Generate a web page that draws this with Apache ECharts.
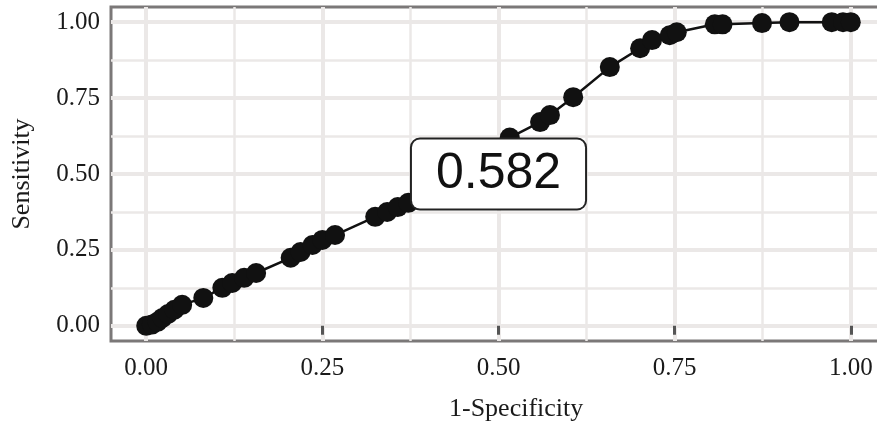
<!DOCTYPE html>
<html>
<head>
<meta charset="utf-8">
<script src="https://cdn.jsdelivr.net/npm/echarts@6/dist/echarts.min.js"></script>
<style>
  html, body { margin: 0; padding: 0; background: #fff; }
  #main { width: 877px; height: 434px; }
</style>
</head>
<body>
<div id="main"></div>
<script>
// ROC curve points
var fpr = [0, 0.008, 0.016, 0.023, 0.031, 0.040, 0.051, 0.081, 0.108, 0.122, 0.139, 0.156,
  0.205, 0.219, 0.236, 0.250, 0.268, 0.325, 0.342, 0.357, 0.372, 0.516, 0.559, 0.573,
  0.606, 0.658, 0.701, 0.718, 0.743, 0.753, 0.807, 0.818, 0.874, 0.913, 0.973, 0.989, 1];
var tpr = [0, 0.004, 0.013, 0.026, 0.039, 0.053, 0.069, 0.092, 0.125, 0.141, 0.158, 0.174,
  0.224, 0.243, 0.266, 0.283, 0.299, 0.359, 0.375, 0.391, 0.405, 0.620, 0.671, 0.694,
  0.753, 0.852, 0.914, 0.941, 0.957, 0.967, 0.993, 0.993, 0.997, 1, 1, 1, 1];
var majorTicks = [0, 0.25, 0.5, 0.75, 1];
var minorTicks = [0.125, 0.375, 0.625, 0.875];
var aucText = '0.582';
var aucAt = [0.5, 0.5];

var serif = 'Liberation Serif';
var gridColor = '#ebe8e7';

function axisPair(dim) {
  var main = {
    type: 'value', min: -0.05, max: 1.05,
    axisLine: { show: false },
    axisTick: dim === 'x'
      ? { show: true, customValues: majorTicks, length: 9, lineStyle: { color: '#555', width: 3 } }
      : { show: false, customValues: majorTicks },
    axisLabel: {
      customValues: majorTicks,
      formatter: function (v) { return v.toFixed(2); },
      fontFamily: serif, fontSize: 25, color: '#1a1a1a',
      margin: dim === 'x' ? 15 : 11
    },
    splitLine: { show: true, lineStyle: { color: gridColor, width: 4 } }
  };
  var minor = {
    type: 'value', min: -0.05, max: 1.05,
    axisLine: { show: false },
    axisTick: { show: false, customValues: minorTicks },
    axisLabel: { show: false, customValues: minorTicks },
    splitLine: { show: true, lineStyle: { color: gridColor, width: 2.5 } }
  };
  return [main, minor];
}

var xs = axisPair('x');
var ys = axisPair('y');
ys[0].name = 'Sensitivity';
ys[0].nameLocation = 'middle';
ys[0].nameGap = 76;
ys[0].nameTextStyle = { fontFamily: serif, fontSize: 26, color: '#1a1a1a' };

var chart = echarts.init(document.getElementById('main'), null, { renderer: 'canvas' });
chart.setOption({
  animation: false,
  backgroundColor: '#fff',
  grid: {
    left: 111, top: 7, right: -9, bottom: 93,
    containLabel: false, outerBoundsMode: 'none',
    show: true, backgroundColor: '#fff', borderColor: '#7b7878', borderWidth: 3
  },
  xAxis: xs,
  yAxis: ys,
  graphic: [{
    type: 'text', left: 449, top: 396,
    style: { text: '1-Specificity', fontFamily: serif, fontSize: 26, fill: '#1a1a1a' }
  }],
  series: [{
    type: 'line',
    xAxisIndex: 0, yAxisIndex: 0,
    data: fpr.map(function (x, i) { return [x, tpr[i]]; }),
    symbol: 'circle', symbolSize: 20,
    itemStyle: { color: '#111' },
    lineStyle: { color: '#111', width: 2.5 },
    z: 3
  }, {
    type: 'scatter',
    xAxisIndex: 0, yAxisIndex: 0,
    data: [aucAt],
    symbolSize: 0,
    itemStyle: { opacity: 1 },
    z: 10,
    label: {
      show: true, position: 'inside',
      formatter: aucText,
      fontFamily: 'Liberation Sans', fontSize: 50, color: '#111',
      backgroundColor: '#fff', borderColor: '#222', borderWidth: 2, borderRadius: 8,
      padding: [6, 24, 5, 24], lineHeight: 58
    }
  }]
});
</script>
</body>
</html>
